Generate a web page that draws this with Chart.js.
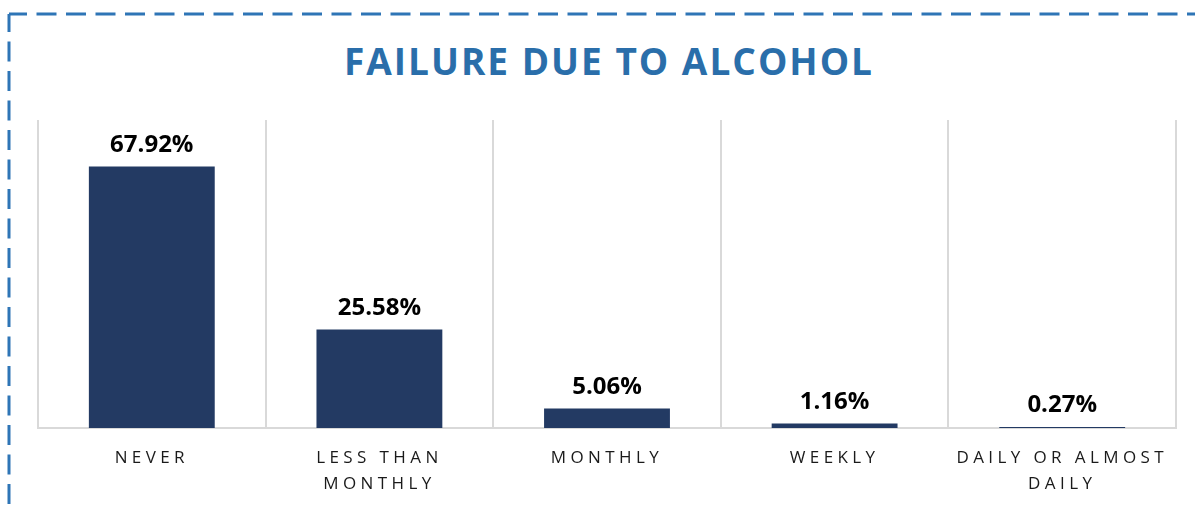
<!DOCTYPE html>
<html>
<head>
<meta charset="utf-8">
<script src="https://cdn.jsdelivr.net/npm/chart.js@4.4.1/dist/chart.umd.min.js"></script>
<style>
  html, body { margin: 0; padding: 0; background: #fff; }
  #wrap { position: relative; width: 1195px; height: 506px; overflow: hidden; }
  #frame { position: absolute; left: 0; top: 0; }
  #title {
    position: absolute; left: 38px; width: 1138px; top: 42px;
    text-align: center; font-family: "Open Sans", sans-serif; font-weight: 700;
    font-size: 37px; line-height: 37px; letter-spacing: 2px; padding-left: 2px;
    color: #2A6EAA;
  }
  #cv { position: absolute; left: 0; top: 0; }
</style>
</head>
<body>
<div id="wrap">
  <svg id="frame" width="1195" height="506">
    <line x1="9" y1="14" x2="1195" y2="14" stroke="#2E75B6" stroke-width="3" stroke-dasharray="20 9.5" stroke-dashoffset="2"/>
    <line x1="9" y1="14" x2="9" y2="506" stroke="#2E75B6" stroke-width="3" stroke-dasharray="20 9.5" stroke-dashoffset="2"/>
  </svg>
  <div id="title">FAILURE DUE TO ALCOHOL</div>
  <canvas id="cv" width="1195" height="506"></canvas>
</div>
<script>
// categories and values
let categories = ['NEVER', ['LESS THAN', 'MONTHLY'], 'MONTHLY', 'WEEKLY', ['DAILY OR ALMOST', 'DAILY']];
let percents = [67.92, 25.58, 5.06, 1.16, 0.27];
let yMax = 80;

// spaced-out letters for the axis labels
let spacing = {
  id: 'spacing',
  beforeDraw(chart) { chart.ctx.letterSpacing = '4.4px'; },
  beforeDatasetsDraw(chart) { chart.ctx.letterSpacing = '0px'; }
};

// value labels above the bars
let valueLabels = {
  id: 'valueLabels',
  afterDatasetsDraw(chart) {
    let ctx = chart.ctx;
    let meta = chart.getDatasetMeta(0);
    ctx.save();
    ctx.letterSpacing = '0px';
    ctx.font = 'bold 24px "Open Sans"';
    ctx.fillStyle = '#000';
    ctx.textAlign = 'center';
    ctx.textBaseline = 'alphabetic';
    meta.data.forEach((bar, i) => {
      ctx.fillText(percents[i].toFixed(2) + '%', bar.x, bar.y - 15);
    });
    ctx.restore();
  }
};

let ctx = document.getElementById('cv').getContext('2d');
let myChart = new Chart(ctx, {
  type: 'bar',
  data: {
    labels: categories,
    datasets: [{
      data: percents,
      backgroundColor: '#233A63',
      borderWidth: 0,
      categoryPercentage: 1,
      barPercentage: 0.553
    }]
  },
  options: {
    responsive: false,
    animation: false,
    layout: { padding: { left: 38, right: 19, top: 120, bottom: 0 } },
    plugins: { legend: { display: false }, tooltip: { enabled: false } },
    scales: {
      x: {
        offset: true,
        grid: { offset: true, color: '#D9D9D9', lineWidth: 2, drawTicks: false },
        border: { color: '#D9D9D9', width: 2 },
        ticks: {
          padding: 17,
          maxRotation: 0,
          autoSkip: false,
          color: '#1A1A1A',
          font: { family: '"Open Sans"', size: 17, lineHeight: '26px' }
        },
        afterFit(scale) { scale.height = 78; }
      },
      y: {
        display: false,
        min: 0,
        max: yMax
      }
    }
  },
  plugins: [spacing, valueLabels]
});
</script>
</body>
</html>
